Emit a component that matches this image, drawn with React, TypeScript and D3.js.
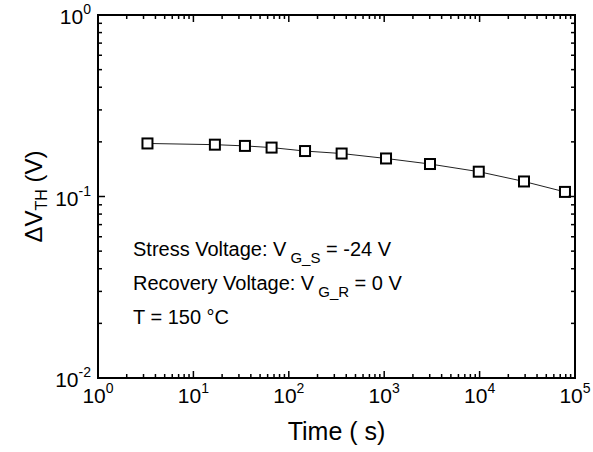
import React from "react";
import * as d3 from "d3";

const times = [3.3, 16.8, 34.7, 66, 148, 358, 1045, 3020, 9800, 29200, 78500];
const dvth = [0.196, 0.193, 0.19, 0.186, 0.178, 0.1725, 0.162, 0.151, 0.137, 0.121, 0.106];
const xMajorExp = [0, 1, 2, 3, 4, 5];
const yMajorExp = [-2, -1, 0];
const annotationLines = ["Stress Voltage: V", "Recovery Voltage: V", "T = 150 °C"];

const W = 593, H = 452;
const L = 98, R = 575, T = 15, B = 378;
const FONT = "'Liberation Sans', Arial, sans-serif";

export default function App() {
  const x = d3.scaleLog().domain([1, 1e5]).range([L, R]);
  const y = d3.scaleLog().domain([1e-2, 1]).range([B, T]);

  const xMinor: number[] = [];
  for (let e = 0; e < 5; e++) for (let k = 2; k <= 9; k++) xMinor.push(k * Math.pow(10, e));
  const yMinor: number[] = [];
  for (let e = -2; e < 0; e++) for (let k = 2; k <= 9; k++) yMinor.push(k * Math.pow(10, e));

  const line = d3
    .line<number>()
    .x((_, i) => x(times[i]))
    .y((d) => y(d));

  const MAJ = 7, MIN = 4;
  const tickStyle = { stroke: "#000", strokeWidth: 1.5 };

  return (
    <svg width={W} height={H} style={{ position: "absolute", left: 0, top: 0, background: "#fff" }} fontFamily={FONT}>
      <rect x={0} y={0} width={W} height={H} fill="#fff" />
      {/* data line */}
      <path d={line(dvth) || ""} fill="none" stroke="#222" strokeWidth={1} />
      {dvth.map((v, i) => (
        <rect key={i} x={x(times[i]) - 5} y={y(v) - 5} width={10} height={10} fill="#fff" stroke="#000" strokeWidth={2} />
      ))}

      {/* x ticks bottom & top */}
      {xMajorExp.map((e) => {
        const px = x(Math.pow(10, e));
        return (
          <g key={"xm" + e}>
            <line x1={px} x2={px} y1={B} y2={B - MAJ} {...tickStyle} />
            <line x1={px} x2={px} y1={T} y2={T + MAJ} {...tickStyle} />
            <text x={px} y={403} fontSize={21} textAnchor="middle">
              10<tspan fontSize={14} dy={-10}>{e}</tspan>
            </text>
          </g>
        );
      })}
      {xMinor.map((v, i) => {
        const px = x(v);
        return (
          <g key={"xn" + i}>
            <line x1={px} x2={px} y1={B} y2={B - MIN} {...tickStyle} />
            <line x1={px} x2={px} y1={T} y2={T + MIN} {...tickStyle} />
          </g>
        );
      })}

      {/* y ticks left & right */}
      {yMajorExp.map((e) => {
        const py = y(Math.pow(10, e));
        return (
          <g key={"ym" + e}>
            <line x1={L} x2={L + MAJ} y1={py} y2={py} {...tickStyle} />
            <line x1={R} x2={R - MAJ} y1={py} y2={py} {...tickStyle} />
            <text x={91} y={py + 9} fontSize={21} textAnchor="end">
              10<tspan fontSize={14} dy={-10}>{e}</tspan>
            </text>
          </g>
        );
      })}
      {yMinor.map((v, i) => {
        const py = y(v);
        return (
          <g key={"yn" + i}>
            <line x1={L} x2={L + MIN} y1={py} y2={py} {...tickStyle} />
            <line x1={R} x2={R - MIN} y1={py} y2={py} {...tickStyle} />
          </g>
        );
      })}

      {/* frame */}
      <rect x={L} y={T} width={R - L} height={B - T} fill="none" stroke="#000" strokeWidth={2} />

      {/* axis titles */}
      <text x={(L + R) / 2} y={440} fontSize={25} textAnchor="middle">
        Time ( s)
      </text>
      <text transform={`translate(42, ${(T + B) / 2}) rotate(-90)`} fontSize={24} textAnchor="middle">
        ΔV<tspan fontSize={16} dy={5}>TH</tspan>
        <tspan dy={-5}> (V)</tspan>
      </text>

      {/* annotations */}
      <text x={133} y={256} fontSize={20}>
        {annotationLines[0]}
        <tspan fontSize={15} dx={4} dy={7}>G_S</tspan>
        <tspan dy={-7}> = -24 V</tspan>
      </text>
      <text x={133} y={290} fontSize={20}>
        {annotationLines[1]}
        <tspan fontSize={15} dx={4} dy={7}>G_R</tspan>
        <tspan dy={-7}> = 0 V</tspan>
      </text>
      <text x={133} y={324} fontSize={20}>
        {annotationLines[2]}
      </text>
    </svg>
  );
}
